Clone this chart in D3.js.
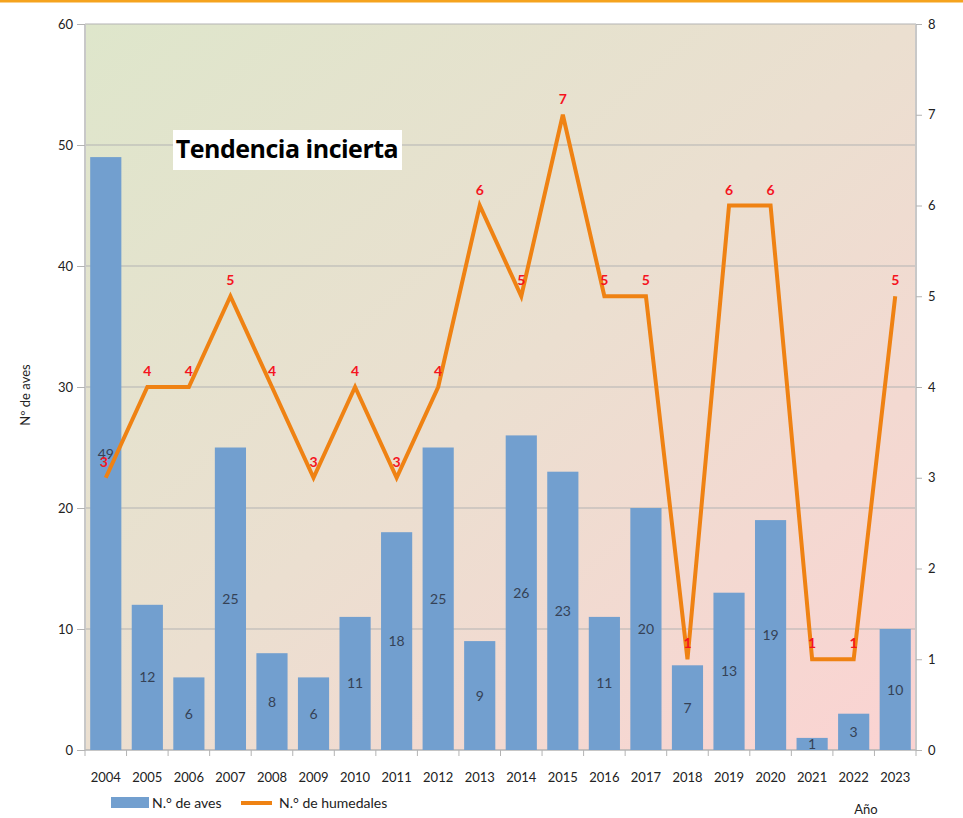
<!DOCTYPE html>
<html>
<head>
<meta charset="utf-8">
<script src="https://cdn.jsdelivr.net/npm/d3@7"></script>
<style>
  body { margin: 0; background: #fff; }
  text { font-family: Lato, "Open Sans", sans-serif; }
</style>
</head>
<body>
<div id="chart"></div>
<script>
// data
const years = ['2004','2005','2006','2007','2008','2009','2010','2011','2012','2013',
  '2014','2015','2016','2017','2018','2019','2020','2021','2022','2023'];
const aves = [49, 12, 6, 25, 8, 6, 11, 18, 25, 9, 26, 23, 11, 20, 7, 13, 19, 1, 3, 10];
const humedales = [3, 4, 4, 5, 4, 3, 4, 3, 4, 6, 5, 7, 5, 5, 1, 6, 6, 1, 1, 5];
const leftTicks = [0, 10, 20, 30, 40, 50, 60];
const rightTicks = [0, 1, 2, 3, 4, 5, 6, 7, 8];

const width = 963, height = 818;
const margin = { top: 24, right: 47, bottom: 68, left: 85 };
const innerW = width - margin.left - margin.right;
const innerH = height - margin.top - margin.bottom;

const svg = d3.select('#chart').append('svg')
  .attr('width', width)
  .attr('height', height);

// orange strip at the very top
svg.append('rect').attr('x', 0).attr('y', 0).attr('width', width).attr('height', 2.5)
  .attr('fill', '#f5a31e');

const defs = svg.append('defs');
const grad = defs.append('linearGradient').attr('id', 'bg')
  .attr('x1', '0%').attr('y1', '0%').attr('x2', '100%').attr('y2', '100%');
grad.append('stop').attr('offset', '0%').attr('stop-color', '#dee6cb');
grad.append('stop').attr('offset', '50%').attr('stop-color', '#ebdfd0');
grad.append('stop').attr('offset', '100%').attr('stop-color', '#fbd3d2');

const g = svg.append('g').attr('transform', `translate(${margin.left},${margin.top})`);

const x = d3.scaleBand().domain(years).range([0, innerW]).paddingInner(0.25).paddingOuter(0.125);
const yL = d3.scaleLinear().domain([0, 60]).range([innerH, 0]);
const yR = d3.scaleLinear().domain([0, 8]).range([innerH, 0]);

g.append('rect').attr('width', innerW).attr('height', innerH).attr('fill', 'url(#bg)');

// gridlines
g.append('g').selectAll('line').data(leftTicks).join('line')
  .attr('x1', 0).attr('x2', innerW)
  .attr('y1', (d) => yL(d)).attr('y2', (d) => yL(d))
  .attr('stroke', '#b3b3b3').attr('stroke-width', 1);

// left axis
const axL = g.append('g')
  .call(d3.axisLeft(yL).tickValues(leftTicks).tickSize(8).tickPadding(4));
axL.select('.domain').attr('stroke', '#c8c8c8').attr('stroke-width', 2).attr('d', `M0,0V${innerH}`);
axL.selectAll('.tick line').attr('stroke', '#b3b3b3');
axL.selectAll('.tick text').attr('font-size', 13).attr('fill', '#222');

// right axis
const axR = g.append('g').attr('transform', `translate(${innerW},0)`)
  .call(d3.axisRight(yR).tickValues(rightTicks).tickSize(6).tickPadding(6));
axR.select('.domain').attr('stroke', '#c8c8c8').attr('stroke-width', 2).attr('d', `M0,0V${innerH}`);
axR.selectAll('.tick line').attr('stroke', '#b3b3b3');
axR.selectAll('.tick text').attr('font-size', 13).attr('fill', '#222');

// x axis: ticks on category boundaries
const bounds = d3.range(years.length + 1).map((i) => i * innerW / years.length);
const axX = g.append('g').attr('transform', `translate(0,${innerH})`);
axX.append('line').attr('x1', 0).attr('x2', innerW).attr('stroke', '#b3b3b3');
axX.selectAll('line.tk').data(bounds).join('line').attr('class', 'tk')
  .attr('x1', (d) => d).attr('x2', (d) => d).attr('y1', 0).attr('y2', 6)
  .attr('stroke', '#b3b3b3');
axX.selectAll('text').data(years).join('text')
  .attr('x', (d) => x(d) + x.bandwidth() / 2).attr('y', 32)
  .attr('text-anchor', 'middle').attr('font-size', 13).attr('fill', '#222')
  .text((d) => d);

// bars
g.append('g').selectAll('rect').data(aves).join('rect')
  .attr('x', (d, i) => x(years[i]))
  .attr('y', (d) => yL(d))
  .attr('width', x.bandwidth())
  .attr('height', (d) => innerH - yL(d))
  .attr('fill', '#729fcf');

g.append('g').selectAll('text').data(aves).join('text')
  .attr('x', (d, i) => x(years[i]) + x.bandwidth() / 2)
  .attr('y', (d) => d < 2 ? innerH - 1 : (yL(d) + innerH) / 2 + 5)
  .attr('text-anchor', 'middle').attr('font-size', 14).attr('fill', '#354256')
  .text((d) => d);

// line
const line = d3.line()
  .x((d, i) => x(years[i]) + x.bandwidth() / 2)
  .y((d) => yR(d));
g.append('path').datum(humedales)
  .attr('d', line).attr('fill', 'none')
  .attr('stroke', '#ef8213').attr('stroke-width', 4).attr('stroke-linejoin', 'miter');

g.append('g').selectAll('text').data(humedales).join('text')
  .attr('x', (d, i) => x(years[i]) + x.bandwidth() / 2 - (i === 0 ? 2 : 0))
  .attr('y', (d) => yR(d) - 11)
  .attr('text-anchor', 'middle').attr('font-size', 14).attr('font-weight', 'bold')
  .attr('fill', '#f5141e')
  .text((d) => d);

// title box
svg.append('rect').attr('x', 173).attr('y', 130).attr('width', 229).attr('height', 40).attr('fill', '#fff');
svg.append('text').attr('x', 287).attr('y', 158).attr('text-anchor', 'middle')
  .attr('font-size', 25).attr('font-weight', 'bold').attr('fill', '#000')
  .style('font-family', '"Open Sans", sans-serif').attr('letter-spacing', -0.5)
  .text('Tendencia incierta');

// y title
svg.append('text').attr('transform', 'translate(30,395) rotate(-90)')
  .attr('text-anchor', 'middle').attr('font-size', 13).attr('fill', '#222')
  .text('Nº de aves');

// x title
svg.append('text').attr('x', 866).attr('y', 814).attr('text-anchor', 'middle')
  .attr('font-size', 13).attr('fill', '#222').text('Año');

// legend
const leg = svg.append('g').attr('transform', 'translate(111,803)');
leg.append('rect').attr('x', 0).attr('y', -6).attr('width', 38).attr('height', 11).attr('fill', '#729fcf');
leg.append('text').attr('x', 41).attr('y', 5).attr('font-size', 14).attr('fill', '#222').text('N.° de aves');
leg.append('line').attr('x1', 130).attr('x2', 161).attr('y1', 0).attr('y2', 0)
  .attr('stroke', '#ef8213').attr('stroke-width', 4);
leg.append('text').attr('x', 168).attr('y', 5).attr('font-size', 14).attr('fill', '#222').text('N.° de humedales');
</script>
</body>
</html>
